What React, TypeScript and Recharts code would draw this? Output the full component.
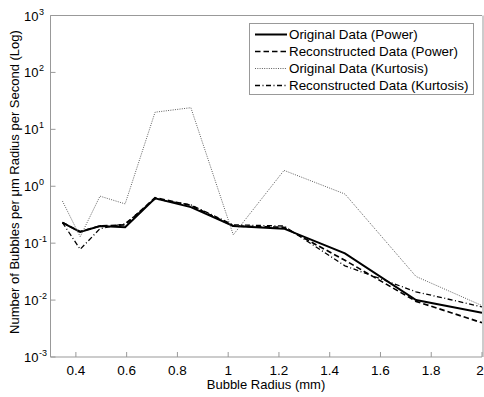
import React from 'react';
import { LineChart, Line, XAxis, YAxis, Legend } from 'recharts';

const radius = [0.347, 0.417, 0.495, 0.594, 0.712, 0.853, 1.02, 1.22, 1.46, 1.74, 2.0];
const origPower = [0.23, 0.157, 0.2, 0.19, 0.615, 0.43, 0.2, 0.18, 0.066, 0.01, 0.006];
const reconPower = [0.23, 0.16, 0.2, 0.21, 0.63, 0.46, 0.2, 0.19, 0.05, 0.0095, 0.004];
const origKurtosis = [0.55, 0.13, 0.67, 0.49, 20, 24, 0.14, 1.9, 0.73, 0.026, 0.008];
const reconKurtosis = [0.23, 0.078, 0.18, 0.22, 0.6, 0.47, 0.21, 0.2, 0.04, 0.014, 0.0076];

const xTicks = [0.4, 0.6, 0.8, 1, 1.2, 1.4, 1.6, 1.8, 2];
const xTickLabels = ['0.4', '0.6', '0.8', '1', '1.2', '1.4', '1.6', '1.8', '2'];
const yTicks = [0.001, 0.01, 0.1, 1, 10, 100, 1000];
const yTickExponents = ['-3', '-2', '-1', '0', '1', '2', '3'];

// minor log ticks 2..9 per decade
const yMinorTicks = yTicks.slice(0, -1).flatMap(d => [2, 3, 4, 5, 6, 7, 8, 9].map(m => d * m));

const series = [
  { key: 'origPower', name: 'Original Data (Power)', color: '#000', width: 2, dash: undefined },
  { key: 'reconPower', name: 'Reconstructed Data (Power)', color: '#000', width: 1.7, dash: '5.5 3' },
  { key: 'origKurtosis', name: 'Original Data (Kurtosis)', color: '#5e5e5e', width: 1, dash: '1 1.3' },
  { key: 'reconKurtosis', name: 'Reconstructed Data (Kurtosis)', color: '#000', width: 1.3, dash: '5 2.5 1 2.5' },
];

const data = radius.map((r, i) => ({
  r,
  origPower: origPower[i],
  reconPower: reconPower[i],
  origKurtosis: origKurtosis[i],
  reconKurtosis: reconKurtosis[i],
}));

const FONT = 'Arial, "Liberation Sans", sans-serif';
const AXIS = '#999';

function XTick({ x, y, index }: any) {
  // last label sits on the right edge, nudge it in a little
  const dx = index === xTickLabels.length - 1 ? -2 : 0;
  return (
    <text x={x + dx} y={y + 23} textAnchor="middle" fontSize={13.5} fontFamily={FONT} fill="#000">
      {xTickLabels[index]}
    </text>
  );
}

function YTick({ x, y, index }: any) {
  return (
    <g fontFamily={FONT} fill="#000">
      <text x={x - 17} y={y + 5} textAnchor="end" fontSize={13}>10</text>
      <text x={x - 16.5} y={y - 1} textAnchor="start" fontSize={9}>{yTickExponents[index]}</text>
    </g>
  );
}

function LegendBox() {
  return (
    <div
      style={{
        width: 225,
        height: 72,
        boxSizing: 'border-box',
        border: `1px solid ${AXIS}`,
        background: '#fff',
        paddingTop: 2,
        fontFamily: FONT,
        fontSize: 13.4,
        color: '#000',
      }}
    >
      {series.map(s => (
        <div key={s.key} style={{ height: 17, display: 'flex', alignItems: 'center', whiteSpace: 'nowrap' }}>
          <svg width={38} height={17} style={{ flex: 'none' }}>
            <line x1={5} x2={37} y1={8.5} y2={8.5} stroke={s.color} strokeWidth={s.width} strokeDasharray={s.dash} />
          </svg>
          <span style={{ marginLeft: 1 }}>{s.name}</span>
        </div>
      ))}
    </div>
  );
}

export default function App() {
  return (
    <div style={{ position: 'absolute', left: 0, top: 0, width: 484, height: 397, background: '#fff' }}>
      <LineChart width={484} height={397} data={data} margin={{ top: 14.5, right: 0, bottom: 39, left: 48.5 }}>
        <XAxis
          dataKey="r"
          type="number"
          domain={[0.3, 2]}
          allowDataOverflow
          ticks={xTicks}
          tick={<XTick />}
          tickSize={-5}
          tickMargin={0}
          height={1}
          stroke={AXIS}
          interval={0}
          label={{
            content: () => (
              <text x={266} y={389} textAnchor="middle" fontSize={13} fontFamily={FONT} fill="#000">
                Bubble Radius (mm)
              </text>
            ),
          }}
        />
        <XAxis
          xAxisId="top"
          orientation="top"
          dataKey="r"
          type="number"
          domain={[0.3, 2]}
          allowDataOverflow
          ticks={xTicks}
          tick={false}
          tickSize={-5}
          height={1}
          stroke={AXIS}
          interval={0}
        />
        <YAxis
          yAxisId="main"
          scale="log"
          type="number"
          domain={[0.001, 1000]}
          allowDataOverflow
          ticks={yTicks}
          tick={<YTick />}
          tickSize={-5}
          tickMargin={0}
          width={1}
          stroke={AXIS}
          interval={0}
          label={{
            content: () => (
              <text
                x={18.5}
                y={182}
                transform="rotate(-90, 18.5, 182)"
                textAnchor="middle"
                fontSize={13}
                fontFamily={FONT}
                fill="#000"
              >
                Number of Bubbles per μm Radius per Second (Log)
              </text>
            ),
          }}
        />
        <YAxis
          yAxisId="minorL"
          scale="log"
          type="number"
          domain={[0.001, 1000]}
          allowDataOverflow
          ticks={yMinorTicks}
          tick={false}
          tickSize={-3}
          width={1}
          axisLine={false}
          tickLine={{ stroke: AXIS }}
          interval={0}
        />
        <YAxis
          yAxisId="right"
          orientation="right"
          scale="log"
          type="number"
          domain={[0.001, 1000]}
          allowDataOverflow
          ticks={yTicks}
          tick={false}
          tickSize={-5}
          width={1}
          stroke={AXIS}
          interval={0}
        />
        <YAxis
          yAxisId="minorR"
          orientation="right"
          scale="log"
          type="number"
          domain={[0.001, 1000]}
          allowDataOverflow
          ticks={yMinorTicks}
          tick={false}
          tickSize={-3}
          width={1}
          axisLine={false}
          tickLine={{ stroke: AXIS }}
          interval={0}
        />
        <Legend
          layout="vertical"
          align="center"
          verticalAlign="middle"
          content={() => <LegendBox />}
          wrapperStyle={{ position: 'absolute', left: 249, top: 23, width: 225, height: 72 }}
        />
        {series.map(s => (
          <Line
            key={s.key}
            yAxisId="main"
            type="linear"
            dataKey={s.key}
            name={s.name}
            stroke={s.color}
            strokeWidth={s.width}
            strokeDasharray={s.dash}
            dot={false}
            activeDot={false}
            isAnimationActive={false}
          />
        ))}
      </LineChart>
    </div>
  );
}
